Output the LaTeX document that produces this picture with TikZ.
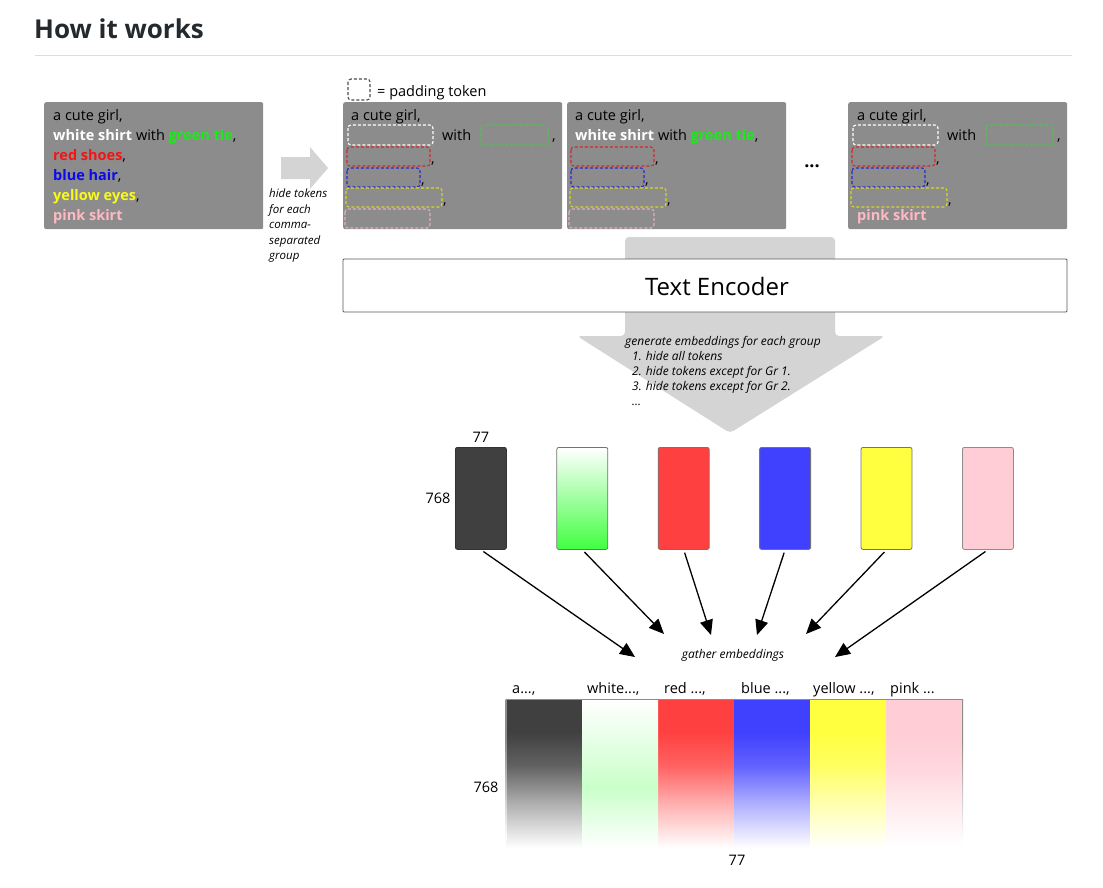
\documentclass[tikz,border=0pt]{standalone}
\usepackage{fontspec}
\setmainfont{Open Sans}
\usetikzlibrary{positioning,arrows.meta}

\definecolor{boxgray}{RGB}{140,140,140}
\definecolor{arrowgray}{RGB}{212,212,212}
\definecolor{titlegray}{RGB}{36,41,46}
\definecolor{rulegray}{RGB}{216,222,228}
\definecolor{tgreen}{RGB}{25,235,25}
\definecolor{tred}{RGB}{245,20,20}
\definecolor{tblue}{RGB}{10,10,235}
\definecolor{tyellow}{RGB}{250,250,25}
\definecolor{tpink}{RGB}{255,185,195}
\definecolor{pgreen}{RGB}{70,200,70}
\definecolor{pred}{RGB}{215,40,40}
\definecolor{pblue}{RGB}{40,40,210}
\definecolor{pyellow}{RGB}{215,215,40}
\definecolor{ppink}{RGB}{225,175,185}
\definecolor{edark}{RGB}{64,64,64}
\definecolor{egreen}{RGB}{64,255,64}
\definecolor{ered}{RGB}{255,64,64}
\definecolor{eblue}{RGB}{64,64,255}
\definecolor{eyellow}{RGB}{255,255,64}
\definecolor{epink}{RGB}{255,205,213}
\colorlet{fadecol}{edark}
\colorlet{fadehalf}{edark}
\colorlet{fademost}{edark}

\pgfdeclareverticalshading[fadecol,fadehalf,fademost]{fadeout}{100bp}{color(0bp)=(white); color(26bp)=(white); color(40bp)=(fadehalf); color(53bp)=(fademost); color(64bp)=(fadecol); color(100bp)=(fadecol)}
\pgfdeclareverticalshading{fadegreen}{100bp}{color(0bp)=(white); color(26bp)=(white); color(46bp)=(egreen!28); color(75bp)=(white); color(100bp)=(white)}
\pgfdeclareverticalshading{fadeside}{100bp}{color(0bp)=(white); color(25bp)=(white); color(60bp)=(black!45); color(100bp)=(black!45)}

\tikzset{
  promptbox/.style={fill=boxgray, rounded corners=2pt, minimum width=219pt, minimum height=127pt, anchor=north west, inner sep=0pt},
  line/.style={anchor=base west, inner sep=0pt, font=\fontsize{14.5}{16}\selectfont},
  pad/.style={dash pattern=on 3pt off 2pt, rounded corners=3pt, line width=1.1pt},
  note/.style={anchor=north west, inner sep=0pt, align=left, font=\fontsize{11.5}{15.5}\selectfont\itshape},
  emb/.style={minimum width=51pt, minimum height=102pt, rounded corners=2pt, anchor=north west, inner sep=0pt, line width=0.8pt},
  embdark/.style={fill=edark, draw=black!80},
  embgreen/.style={top color=white, bottom color=egreen, draw=black!55},
  embred/.style={fill=ered, draw=black!55},
  embblue/.style={fill=eblue, draw=black!55},
  embyellow/.style={fill=eyellow, draw=black!55},
  embpink/.style={fill=epink, draw=black!45},
  gather/.style={-{Triangle[length=15pt,width=13pt]}, line width=1.3pt, shorten <=3pt},
  lbl/.style={font=\fontsize{14.5}{16}\selectfont}
}

\begin{document}
\begin{tikzpicture}[x=1pt,y=-1pt]
\useasboundingbox[fill=white] (0,0) rectangle (1103,887);

\node[anchor=base west, inner sep=0pt, font=\fontsize{26}{30}\selectfont\bfseries, text=titlegray] (title) at (34,38) {How it works};
\draw[rulegray, line width=1pt] (35,55) -- (1072,55);

\node[promptbox] (p1) at (44,102) {};
\node[line] (p1a) at (53,120) {a cute girl,};
\node[line] (p1b) at (53,140) {\textcolor{white}{\bfseries white shirt} with \textcolor{tgreen}{\bfseries green tie},};
\node[line] (p1c) at (53,160) {\textcolor{tred}{\bfseries red shoes},};
\node[line] (p1d) at (53,180) {\textcolor{tblue}{\bfseries blue hair},};
\node[line] (p1e) at (53,200) {\textcolor{tyellow}{\bfseries yellow eyes},};
\node[line] (p1f) at (53,220) {\textcolor{tpink}{\bfseries pink skirt}};

\fill[arrowgray] (281,157) -- (310,157) -- (310,147) -- (328,168) -- (310,189) -- (310,179) -- (281,179) -- cycle;
\node[note] (hide) at (269,189) {hide tokens\\for each\\comma-\\separated\\group};

\draw[pad, black!70] (348,79) rectangle (370,100);
\node[line] (legend) at (377,96) {= padding token};

\node[promptbox] (p2) at (343,102) {};
\node[promptbox] (p3) at (567,102) {};
\node[promptbox] (p4) at (848,102) {};

\node[line] (p2a) at (351,120) {a cute girl,};
\node[line] (p3a) at (575,120) {a cute girl,};
\node[line] (p4a) at (857,120) {a cute girl,};
\node[line] (p3b) at (575,140) {\textcolor{white}{\bfseries white shirt} with \textcolor{tgreen}{\bfseries green tie},};
\node[line] (p4f) at (857,220) {\textcolor{tpink}{\bfseries pink skirt}};

\foreach \ox in {343,848} {
  \draw[pad, white] (\ox+5,125) rectangle (\ox+90,145);
  \node[line] at (\ox+99,140) {with};
  \draw[pad, pgreen] (\ox+138,125) rectangle (\ox+205,145);
  \node[line] at (\ox+209,140) {,};
}
\foreach \ox in {343,567,848} {
  \draw[pad, pred] (\ox+4,147) rectangle (\ox+87,166);
  \node[line] at (\ox+88,163) {,};
  \draw[pad, pblue] (\ox+4,168) rectangle (\ox+77,187);
  \node[line] at (\ox+78,184) {,};
  \draw[pad, pyellow] (\ox+3,188) rectangle (\ox+99,207);
  \node[line] at (\ox+100,204) {,};
}
\foreach \ox in {343,567} {
  \draw[pad, ppink] (\ox+2,209) rectangle (\ox+87,228);
}

\node[font=\fontsize{18}{18}\selectfont\bfseries] (dots) at (812,166) {...};

\fill[arrowgray, rounded corners=4pt] (625,237) -- (835,237) -- (835,336) -- (885,336) -- (730,433) -- (577,336) -- (625,336) -- cycle;
\node[draw=black!65, fill=white, minimum width=724pt, minimum height=53pt, rounded corners=1pt, line width=0.8pt] (enc) at (705,285.5) {};
\node[font=\fontsize{24}{26}\selectfont] (enclabel) at (717,286) {Text Encoder};
\node[note, font=\fontsize{12}{15}\selectfont\itshape] (gen) at (625,336) {generate embeddings for each group\\
  \hspace*{7pt}1. hide all tokens\\
  \hspace*{7pt}2. hide tokens except for Gr 1.\\
  \hspace*{7pt}3. hide tokens except for Gr 2.\\
  \hspace*{7pt}...};

\foreach \s [count=\i] in {embdark,embgreen,embred,embblue,embyellow,embpink}
  \node[emb,\s] (e\i) at ({455+(\i-1)*101.4},447) {};
\node[lbl, above=1pt of e1] (w77) {77};
\node[lbl, left=1pt of e1] (h768) {768};

\coordinate (g1) at (635,657);
\coordinate (g2) at (664,634);
\coordinate (g3) at (711,635);
\coordinate (g4) at (757,635);
\coordinate (g5) at (806,634);
\coordinate (g6) at (835,657);
\foreach \i in {1,...,6}
  \draw[gather] (e\i.south) -- (g\i);
\node[font=\fontsize{12}{14}\selectfont\itshape] (gat) at (733,655) {gather embeddings};

\foreach \col [count=\i] in {edark,white,ered,eblue,eyellow,epink} {
  \colorlet{fadecol}{\col}
  \colorlet{fadehalf}{\col!40!white}
  \colorlet{fademost}{\col!82!white}
  \shade[shading=fadeout] ({506+(\i-1)*76.1},699) rectangle ({506+\i*76.1},851);
}
\shade[shading=fadegreen] (582.1,699) rectangle (658.2,851);
\draw[black!45, line width=1pt] (506,699) -- (962.6,699);
\shade[shading=fadeside] (505.5,699) rectangle (506.5,840);
\shade[shading=fadeside] (962.1,699) rectangle (963.1,840);

\foreach \t/\x in {{a...,}/512,{white...,}/587,{red ...,}/664,{blue ...,}/741,{yellow ...,}/813,{pink ...}/890}
  \node[line] at (\x,693) {\t};
\node[lbl] (b768) at (486,787) {768};
\node[lbl] (b77) at (737,860) {77};
\end{tikzpicture}
\end{document}
